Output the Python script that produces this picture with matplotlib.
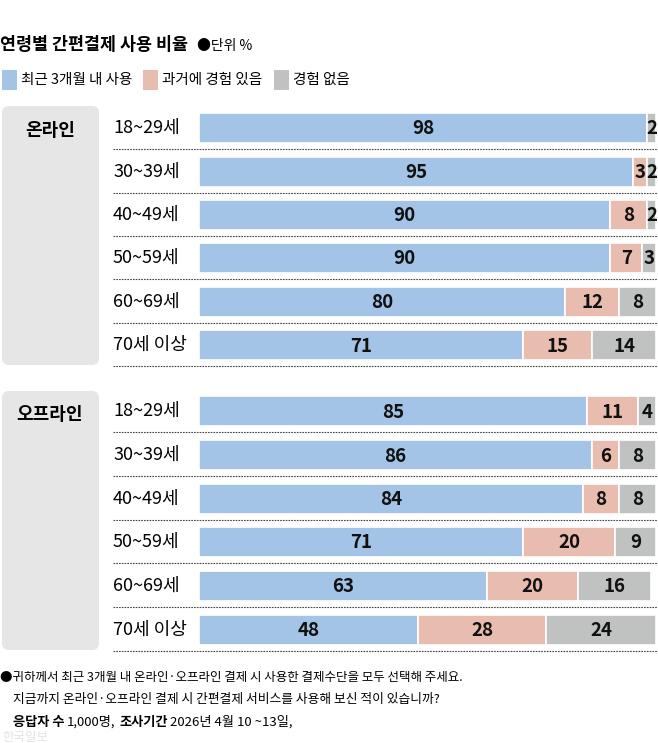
import numpy as np
import matplotlib.pyplot as plt
from matplotlib.patches import FancyBboxPatch

plt.rcParams['font.family'] = ['Noto Sans CJK KR', 'DejaVu Sans']

# data
ages = ['18~29세', '30~39세', '40~49세', '50~59세', '60~69세', '70세 이상']
online_recent = [98, 95, 90, 90, 80, 71]
online_past = [0, 3, 8, 7, 12, 15]
online_never = [2, 2, 2, 3, 8, 14]
offline_recent = [85, 86, 84, 71, 63, 48]
offline_past = [11, 6, 8, 20, 20, 28]
offline_never = [4, 8, 8, 9, 16, 24]
legend_labels = ['최근 3개월 내 사용', '과거에 경험 있음', '경험 없음']
colors = ['#a3c4e6', '#e8bcae', '#c0c1c1']

W, H = 658, 743
fig = plt.figure(figsize=(W / 100, H / 100), dpi=100)
bg = fig.add_axes([0, 0, 1, 1])
bg.set_xlim(0, W)
bg.set_ylim(H, 0)
bg.axis('off')

x0, x1 = 199, 656
ax = fig.add_axes([x0 / W, 0, (x1 - x0) / W, 1])
ax.set_xlim(0, 100)
ax.set_ylim(H, 0)
ax.axis('off')

# title and legend
bg.text(0, 45, '연령별 간편결제 사용 비율', fontsize=12.5, fontweight='bold', va='center', ha='left')
bg.text(197, 46, '●단위 %', fontsize=10, va='center', ha='left')
leg_x = [2, 143, 274]
for lx, lab, c in zip(leg_x, legend_labels, colors):
    bg.add_patch(plt.Rectangle((lx, 70), 15, 20, color=c, lw=0))
    bg.text(lx + 19, 80, lab, fontsize=10.5, va='center', ha='left')


def draw_group(y_top, label, centers, recent, past, never):
    box = FancyBboxPatch((2, y_top + 2), 97, centers[-1] + 22 - y_top - 4,
                         boxstyle='round,pad=0,rounding_size=7',
                         fc='#e6e6e6', ec='none')
    bg.add_patch(box)
    bg.text(50, centers[0] + 3, label, fontsize=13, fontweight='bold', ha='center', va='center')
    for yc, age, r, p, n in zip(centers, ages, recent, past, never):
        bg.text(113, yc, age, fontsize=13, va='center', ha='left')
        lefts = [0, r, r + p]
        for v, left, c in zip([r, p, n], lefts, colors):
            if v == 0:
                continue
            ax.barh(yc, v, left=left, height=30, color=c, edgecolor='white', linewidth=1.2)
            ax.text(left + v / 2, yc + 1, str(v), fontsize=13.5, fontweight='bold',
                    ha='center', va='center', color='#111111')
        bg.plot([113, 657], [yc + 21, yc + 21], ls=(0, (1.5, 1)), color='#444444', lw=0.8)


online_y = [128, 171.5, 214.5, 258, 301.5, 345]
offline_y = [411, 455, 498.5, 542, 586, 630]
draw_group(104, '온라인', online_y, online_recent, online_past, online_never)
draw_group(389, '오프라인', offline_y, offline_recent, offline_past, offline_never)

# footnote
bg.text(0, 677, '●귀하께서 최근 3개월 내 온라인·오프라인 결제 시 사용한 결제수단을 모두 선택해 주세요.',
        fontsize=9, va='center', ha='left')
bg.text(13, 700, '지금까지 온라인·오프라인 결제 시 간편결제 서비스를 사용해 보신 적이 있습니까?',
        fontsize=9.2, va='center', ha='left')

# last line: chain bold / normal pieces one after another
renderer = fig.canvas.get_renderer()
inv = bg.transData.inverted()
xpos = 13
for piece, weight in [('응답자 수', 'bold'), ('1,000명,', 'normal'),
                      ('조사기간', 'bold'), ('2026년 4월 10 ~13일,', 'normal')]:
    t = bg.text(xpos, 722, piece, fontsize=9.5, fontweight=weight, va='center', ha='left')
    bb = t.get_window_extent(renderer)
    xpos = inv.transform((bb.x1, bb.y0))[0] + (2 if weight == 'bold' else 4)
bg.text(2, 737, '한국일보', fontsize=9, va='center', ha='left', color='#e4e4e4')

fig.savefig('out.png', dpi=100)
